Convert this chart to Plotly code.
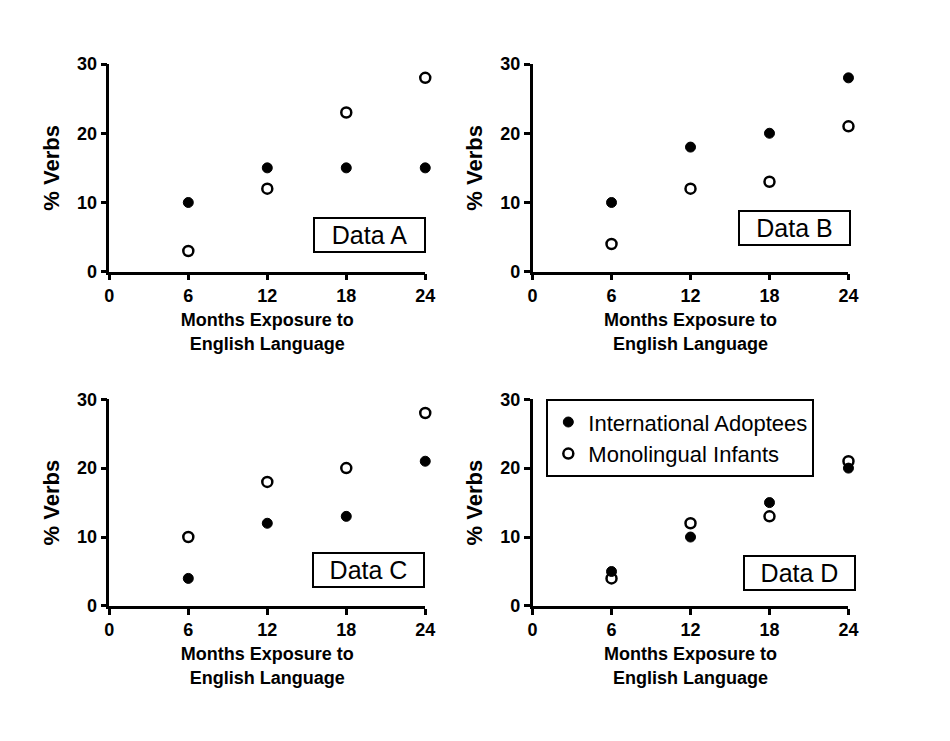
import plotly.graph_objects as go

months = [6, 12, 18, 24]
x_ticks = [0, 6, 12, 18, 24]
x_tick_labels = ["0", "6", "12", "18", "24"]
y_ticks = [0, 10, 20, 30]
y_tick_labels = ["0", "10", "20", "30"]

panels = ["Data A", "Data B", "Data C", "Data D"]
adoptees = {
    "Data A": [10, 15, 15, 15],
    "Data B": [10, 18, 20, 28],
    "Data C": [4, 12, 13, 21],
    "Data D": [5, 10, 15, 20],
}
monolingual = {
    "Data A": [3, 12, 23, 28],
    "Data B": [4, 12, 13, 21],
    "Data C": [10, 18, 20, 28],
    "Data D": [4, 12, 13, 21],
}
series_names = ["International Adoptees", "Monolingual Infants"]

W, H = 950, 741
# panel pixel boxes: (left, right, top, bottom)
boxes = [
    (106, 427, 55.5, 269),
    (536, 857, 55.5, 269),
    (106, 427, 400, 612.5),
    (536, 857, 400, 612.5),
]
label_pos = [(370.5, 231), (802.5, 224), (369, 576), (807.5, 579)]

FONT = "Liberation Sans, Arial, sans-serif"
fig = go.Figure()
layout = dict(
    width=W, height=H, margin=dict(l=0, r=0, t=0, b=0),
    paper_bgcolor="white", plot_bgcolor="white",
    font=dict(family=FONT, color="black"),
    showlegend=True,
    legend=dict(
        x=550 / W, y=1 - 400 / H, xanchor="left", yanchor="top",
        bordercolor="black", borderwidth=2, bgcolor="white",
        font=dict(family=FONT, size=22, color="black"),
        tracegroupgap=0, itemwidth=30,
    ),
    annotations=[],
)

for i, name in enumerate(panels):
    n = "" if i == 0 else str(i + 1)
    l, r, t, b = boxes[i]
    common = dict(
        showgrid=False, zeroline=False, showline=True, linecolor="black", linewidth=2.5,
        ticks="outside", ticklen=6, tickwidth=2.5, tickcolor="black",
        tickfont=dict(family=FONT, size=18, color="black", weight="bold"),
        fixedrange=True,
    )
    layout["xaxis" + n] = dict(
        common, domain=[l / W, r / W], range=[0, 24], anchor="y" + n,
        tickvals=x_ticks, ticktext=x_tick_labels,
        title=dict(text="Months Exposure to<br>English Language",
                   font=dict(family=FONT, size=18, color="black", weight="bold"), standoff=9),
    )
    layout["yaxis" + n] = dict(
        common, domain=[1 - b / H, 1 - t / H], range=[0, 30], anchor="x" + n,
        tickvals=y_ticks, ticktext=y_tick_labels,
        title=dict(text="% Verbs", font=dict(family=FONT, size=22, color="black", weight="bold"),
                   standoff=12),
    )
    show = (i == 3)
    fig.add_trace(go.Scatter(
        x=months, y=adoptees[name], mode="markers", name=series_names[0],
        xaxis="x" + n, yaxis="y" + n, cliponaxis=False, showlegend=show,
        legendgroup="a", legendrank=1,
        marker=dict(symbol="circle", size=10, color="black", line=dict(color="black", width=1)),
    ))
    fig.add_trace(go.Scatter(
        x=months, y=monolingual[name], mode="markers", name=series_names[1],
        xaxis="x" + n, yaxis="y" + n, cliponaxis=False, showlegend=show,
        legendgroup="m", legendrank=2,
        marker=dict(symbol="circle-open", size=10, color="black", line=dict(color="black", width=2.5)),
    ))
    cx, cy = label_pos[i]
    layout["annotations"].append(dict(
        text=name, x=cx / W, y=1 - cy / H, xref="paper", yref="paper",
        xanchor="center", yanchor="middle", showarrow=False,
        font=dict(family=FONT, size=25, color="black"),
        bordercolor="black", borderwidth=2, borderpad=0, bgcolor="white",
        width=109, height=32,
    ))

fig.update_layout(**layout)
fig.write_html("out.html")
